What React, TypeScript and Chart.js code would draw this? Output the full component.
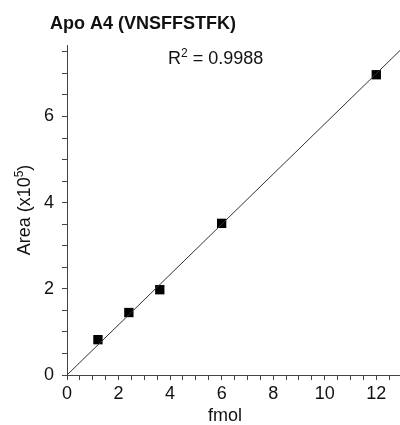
import React, { useEffect, useRef } from "react";
import { Chart, registerables } from "chart.js";

Chart.register(...registerables);

// ---- data ----
const xValues = [1.2, 2.4, 3.6, 6, 12];
const yValues = [0.82, 1.45, 1.98, 3.52, 6.97];
const fitSlope = 0.583;
const fitIntercept = 0;
const xMin = 0;
const xMax = 12.92;
const yMin = 0;
const yMax = 7.66;
const minorStep = 0.5;
const majorStep = 2;
const chartTitle = "Apo A4 (VNSFFSTFK)";
const r2Label = "R";
const r2Sup = "2";
const r2Value = " = 0.9988";
const xTitle = "fmol";
const yTitleMain = "Area (x10";
const yTitleSup = "5";
const yTitleEnd = ")";

const FONT = "'Liberation Sans', Arial, Helvetica, sans-serif";
const AXIS = "#444";

type Part = { t: string; sup?: boolean };

function drawParts(ctx: CanvasRenderingContext2D, parts: Part[], x: number, y: number, size: number, align: "left" | "center") {
  const measure = (p: Part) => {
    ctx.font = `${p.sup ? Math.round(size * 0.65) : size}px ${FONT}`;
    return ctx.measureText(p.t).width;
  };
  const total = parts.reduce((s, p) => s + measure(p), 0);
  let cx = align === "center" ? x - total / 2 : x;
  ctx.textAlign = "left";
  ctx.textBaseline = "alphabetic";
  for (const p of parts) {
    const w = measure(p);
    ctx.fillText(p.t, cx, p.sup ? y - size * 0.38 : y);
    cx += w;
  }
}

const textPlugin = {
  id: "texts",
  afterDraw(chart: any) {
    const ctx: CanvasRenderingContext2D = chart.ctx;
    const area = chart.chartArea;
    ctx.save();
    ctx.fillStyle = "#111";
    // title
    ctx.font = `bold 18px ${FONT}`;
    ctx.textAlign = "left";
    ctx.textBaseline = "alphabetic";
    ctx.fillText(chartTitle, 50, 29);
    // R^2
    drawParts(ctx, [{ t: r2Label }, { t: r2Sup, sup: true }, { t: r2Value }], 168, 64, 18, "left");
    // x title
    ctx.font = `18px ${FONT}`;
    ctx.textAlign = "center";
    ctx.fillText(xTitle, 225, 421);
    // y title
    ctx.save();
    ctx.translate(30, (area.top + area.bottom) / 2);
    ctx.rotate(-Math.PI / 2);
    drawParts(ctx, [{ t: yTitleMain }, { t: yTitleSup, sup: true }, { t: yTitleEnd }], 0, 0, 18, "center");
    ctx.restore();
    ctx.restore();
  },
};

export default function App() {
  const ref = useRef<HTMLCanvasElement>(null);
  useEffect(() => {
    if (!ref.current) return;
    const points = xValues.map((x, i) => ({ x, y: yValues[i] }));
    const fit = [
      { x: xMin, y: fitIntercept + fitSlope * xMin },
      { x: xMax, y: fitIntercept + fitSlope * xMax },
    ];
    const chart = new Chart(ref.current, {
      type: "scatter",
      data: {
        datasets: [
          {
            type: "line",
            data: fit,
            borderColor: "#333",
            borderWidth: 1,
            pointRadius: 0,
            fill: false,
          } as any,
          {
            data: points,
            pointStyle: "rect",
            pointRadius: 6.6,
            pointBackgroundColor: "#000",
            pointBorderWidth: 0,
            backgroundColor: "#000",
          },
        ],
      },
      options: {
        animation: false,
        responsive: false,
        maintainAspectRatio: false,
        layout: { autoPadding: false, padding: { top: 45, right: 0, left: 0, bottom: 0 } },
        plugins: { legend: { display: false }, tooltip: { enabled: false }, title: { display: false } },
        scales: {
          x: {
            type: "linear",
            min: xMin,
            max: xMax,
            afterFit: (s: any) => { s.height = 50; s.paddingLeft = 0; s.paddingRight = 0; },
            border: { display: true, color: AXIS, width: 1 },
            grid: { drawOnChartArea: false, drawTicks: true, tickLength: 5, color: AXIS },
            ticks: {
              stepSize: minorStep,
              includeBounds: false,
              autoSkip: false,
              maxRotation: 0,
              padding: 3,
              color: "#111",
              font: { family: FONT, size: 18 },
              callback: (v: any) => (Math.abs(v % majorStep) < 1e-9 ? String(v) : ""),
            },
          },
          y: {
            type: "linear",
            min: yMin,
            max: yMax,
            afterFit: (s: any) => { s.width = 67; s.paddingTop = 0; s.paddingBottom = 0; },
            border: { display: true, color: AXIS, width: 1 },
            grid: { drawOnChartArea: false, drawTicks: true, tickLength: 5, color: AXIS },
            ticks: {
              stepSize: minorStep,
              includeBounds: false,
              autoSkip: false,
              padding: 8,
              color: "#111",
              font: { family: FONT, size: 18 },
              callback: (v: any) => (Math.abs(v % majorStep) < 1e-9 ? String(v) : ""),
            },
          },
        },
      },
      plugins: [textPlugin],
    });
    return () => chart.destroy();
  }, []);
  return (
    <div style={{ position: "absolute", left: 0, top: 0, width: 400, height: 425, background: "#fff" }}>
      <canvas ref={ref} width={400} height={425} style={{ width: 400, height: 425, display: "block" }} />
    </div>
  );
}
